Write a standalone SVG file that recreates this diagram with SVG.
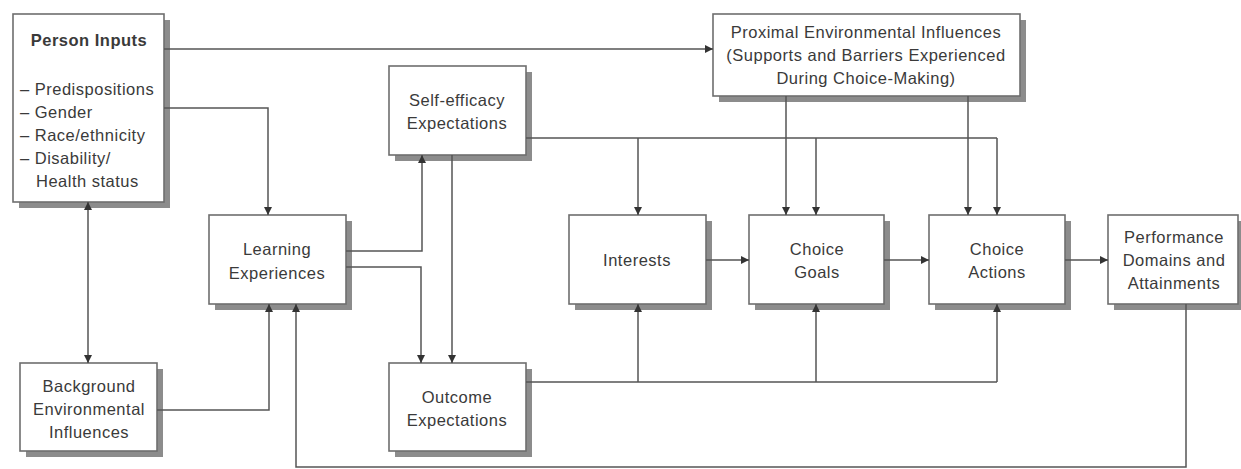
<svg xmlns="http://www.w3.org/2000/svg" width="1241" height="469" viewBox="0 0 1241 469">
<defs>
<marker id="ah" viewBox="0 0 10 10" refX="10" refY="5" markerWidth="10" markerHeight="8" markerUnits="userSpaceOnUse" orient="auto-start-reverse">
<path d="M0,0 L10,5 L0,10 z" fill="#333"/>
</marker>
</defs>
<style>
.box{fill:#fff;stroke:#6e6e6e;stroke-width:1.6}
.sh{fill:#8c8c8c}
.t{font-family:"Liberation Sans",Arial,sans-serif;font-size:16.5px;fill:#3a3a3a;letter-spacing:0.5px;text-anchor:middle}
.l{text-anchor:start}
.b{font-weight:bold}
.c{fill:none;stroke:#555;stroke-width:1.5}
.a{marker-end:url(#ah)}
</style>
<rect width="1241" height="469" fill="#fff"/>

<g id="person-inputs">
<rect class="sh" x="19" y="20" width="151" height="188"/>
<rect class="box" x="13" y="14" width="151" height="188"/>
<text class="t b" x="89" y="46">Person Inputs</text>
<text class="t l" x="20" y="95">– Predispositions</text>
<text class="t l" x="20" y="118">– Gender</text>
<text class="t l" x="20" y="141">– Race/ethnicity</text>
<text class="t l" x="20" y="164">– Disability/</text>
<text class="t l" x="36" y="187">Health status</text>
</g>

<g id="background">
<rect class="sh" x="26" y="369" width="137" height="88"/>
<rect class="box" x="20" y="363" width="137" height="88"/>
<text class="t" x="89" y="392">Background</text>
<text class="t" x="89" y="415">Environmental</text>
<text class="t" x="89" y="438">Influences</text>
</g>

<g id="learning">
<rect class="sh" x="215" y="221" width="137" height="89"/>
<rect class="box" x="209" y="215" width="137" height="89"/>
<text class="t" x="277" y="255">Learning</text>
<text class="t" x="277" y="279">Experiences</text>
</g>

<g id="self-efficacy">
<rect class="sh" x="395" y="72" width="137" height="89"/>
<rect class="box" x="389" y="66" width="137" height="89"/>
<text class="t" x="457" y="106">Self-efficacy</text>
<text class="t" x="457" y="129">Expectations</text>
</g>

<g id="outcome">
<rect class="sh" x="395" y="369" width="137" height="88"/>
<rect class="box" x="389" y="363" width="137" height="88"/>
<text class="t" x="457" y="403">Outcome</text>
<text class="t" x="457" y="426">Expectations</text>
</g>

<g id="proximal">
<rect class="sh" x="719" y="20" width="307" height="82"/>
<rect class="box" x="713" y="14" width="307" height="82"/>
<text class="t" x="866" y="38">Proximal Environmental Influences</text>
<text class="t" x="866" y="61">(Supports and Barriers Experienced</text>
<text class="t" x="866" y="84">During Choice-Making)</text>
</g>

<g id="interests">
<rect class="sh" x="575" y="221" width="137" height="89"/>
<rect class="box" x="569" y="215" width="137" height="89"/>
<text class="t" x="637" y="266">Interests</text>
</g>

<g id="choice-goals">
<rect class="sh" x="755" y="221" width="135" height="89"/>
<rect class="box" x="749" y="215" width="135" height="89"/>
<text class="t" x="817" y="255">Choice</text>
<text class="t" x="817" y="278">Goals</text>
</g>

<g id="choice-actions">
<rect class="sh" x="935" y="221" width="136" height="89"/>
<rect class="box" x="929" y="215" width="136" height="89"/>
<text class="t" x="997" y="255">Choice</text>
<text class="t" x="997" y="278">Actions</text>
</g>

<g id="performance">
<rect class="sh" x="1114" y="221" width="130" height="89"/>
<rect class="box" x="1108" y="215" width="130" height="89"/>
<text class="t" x="1174" y="243">Performance</text>
<text class="t" x="1174" y="266">Domains and</text>
<text class="t" x="1174" y="289">Attainments</text>
</g>

<g id="connectors">
<path class="c a" d="M164,49 H713"/>
<path class="c a" d="M164,108 H268 V215"/>
<path class="c a" d="M88,202 V363" style="marker-start:url(#ah)"/>
<path class="c a" d="M157,410 H269 V304"/>
<path class="c a" d="M346,251 H422 V155"/>
<path class="c a" d="M346,267 H421 V363"/>
<path class="c a" d="M452,155 V363"/>
<path class="c" d="M526,138 H997"/>
<path class="c a" d="M638,138 V215"/>
<path class="c a" d="M816,138 V215"/>
<path class="c a" d="M997,138 V215"/>
<path class="c a" d="M786,96 V215"/>
<path class="c a" d="M968,96 V215"/>
<path class="c" d="M526,382 H997"/>
<path class="c a" d="M638,382 V304"/>
<path class="c a" d="M816,382 V304"/>
<path class="c a" d="M997,382 V304"/>
<path class="c a" d="M706,260 H749"/>
<path class="c a" d="M884,260 H929"/>
<path class="c a" d="M1065,260 H1108"/>
<path class="c a" d="M1186,304 V467 H296 V304"/>
</g>
</svg>
